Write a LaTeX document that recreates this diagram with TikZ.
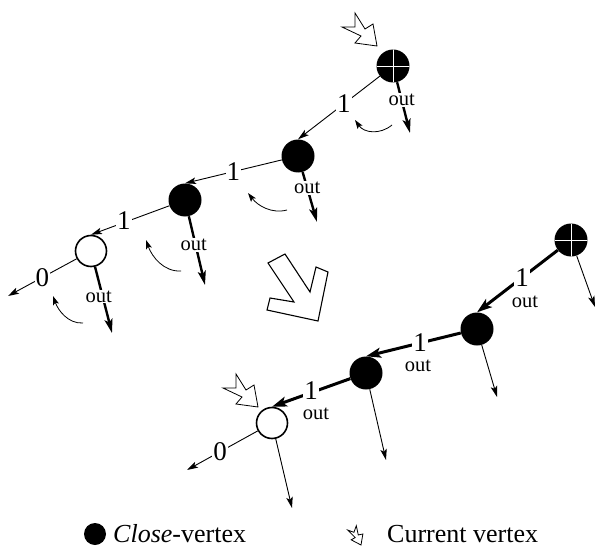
\documentclass[tikz,border=0pt]{standalone}
\usepackage{fontspec}
\setmainfont{Liberation Serif}
\usetikzlibrary{arrows.meta}

\begin{document}
\begin{tikzpicture}[x=1pt,y=-1pt,
  vtx/.style={circle,fill=black,inner sep=0pt,minimum size=33pt},
  openvtx/.style={circle,draw,line width=1.6pt,fill=white,inner sep=0pt,minimum size=31pt},
  rootvtx/.style={vtx,path picture={
      \draw[white,line width=0.9pt]
        (path picture bounding box.north) -- (path picture bounding box.south)
        (path picture bounding box.west) -- (path picture bounding box.east);}},
  num/.style={font=\fontsize{27}{27}\selectfont,fill=white,inner sep=1pt},
  outlbl/.style={font=\fontsize{20.5}{20.5}\selectfont,fill=white,inner sep=1pt},
  outtxt/.style={font=\fontsize{20.5}{20.5}\selectfont,inner sep=0pt},
  legtxt/.style={font=\fontsize{26}{26}\selectfont,inner sep=0pt,anchor=base west},
  thinarr/.style={line width=0.9pt,-{Stealth[length=11pt,width=6.5pt,inset=2.5pt]}},
  outarr/.style={line width=2.4pt,-{Stealth[length=14pt,width=8pt,inset=3pt]}},
  thickarr/.style={line width=3pt,-{Stealth[length=15pt,width=10pt,inset=3.5pt]}},
  turnarr/.style={line width=0.8pt,-{Stealth[length=9pt,width=6pt,inset=2pt]}},
  curvtx/.pic={
    \draw[line width=0.8pt,fill=white,line join=miter]
      (0,0) -- (-22,-3) -- (-16,-10) -- (-35,-19) -- (-22,-19) -- (-22,-33)
      -- (-12,-17) -- (-4,-22) -- cycle;}
]
\useasboundingbox (0,0) rectangle (596,548);

% ---------- first chain ----------
\node[rootvtx] (a1) at (393,66) {};
\node[vtx] (b1) at (298,156) {};
\node[vtx] (c1) at (185,200) {};
\node[openvtx] (d1) at (91,251) {};
\coordinate (d1end) at (8,296);

\draw[thinarr] (a1) -- node[num,pos=0.44] (n1) {1} (b1.north);
\draw[thinarr] (b1) -- node[num,pos=0.5] (n2) {1} (c1.north);
\draw[thinarr] (c1) -- node[num,pos=0.58,yshift=2pt] (n3) {1} (d1.north);
\draw[thinarr] (d1) -- node[num,pos=0.5] (n4) {0} (d1end);

\coordinate (a1out) at (410,133);
\coordinate (b1out) at (317,222);
\coordinate (c1out) at (205,285);
\coordinate (d1out) at (112,333);
\draw[outarr] (a1) -- node[outlbl,pos=0.35] (o1) {out} (a1out);
\draw[outarr] (b1) -- node[outlbl,pos=0.32] (o2) {out} (b1out);
\draw[outarr] (c1) -- node[outlbl,pos=0.42,xshift=-2pt] (o3) {out} (c1out);
\draw[outarr] (d1) -- node[outlbl,pos=0.45,xshift=-4pt] (o4) {out} (d1out);

% turning arrows below each vertex
\draw[turnarr] (392,125) .. controls (380,135) and (364,133) .. (355,120);
\draw[turnarr] (287,210) .. controls (272,214) and (258,206) .. (248,193);
\draw[turnarr] (181,271) .. controls (164,272) and (152,257) .. (146,240);
\draw[turnarr] (83,323) .. controls (68,324) and (58,310) .. (53,296);

\pic at (377,46) {curvtx};

% ---------- hollow transition arrow ----------
\draw[line width=1.1pt,fill=white,line join=miter]
  (268,263) -- (285,254) -- (310,292) -- (316,267) -- (328,272)
  -- (318,321) -- (267,310) -- (270,298) -- (294,302) -- cycle;

% ---------- second chain ----------
\node[rootvtx] (a2) at (571,240) {};
\node[vtx] (b2) at (477,329) {};
\node[vtx] (c2) at (366,373) {};
\node[openvtx] (d2) at (272,423) {};
\coordinate (d2end) at (187,470);

\draw[thickarr] (a2) -- node[num,pos=0.44] (m1) {1} (b2.north);
\draw[thickarr] (b2) -- node[num,pos=0.43] (m2) {1} (c2.north);
\draw[thickarr] (c2) -- node[num,pos=0.5,yshift=2pt] (m3) {1} (d2.north);
\draw[thinarr] (d2) -- node[num,pos=0.53] (m4) {0} (d2end);

\node[outtxt] (p1) at (525,302) {out};
\node[outtxt] (p2) at (418,366) {out};
\node[outtxt] (p3) at (316,414) {out};

\coordinate (a2dn) at (595,307);
\coordinate (b2dn) at (497,397);
\coordinate (c2dn) at (386,460);
\coordinate (d2dn) at (292,508);
\draw[thinarr] (a2) -- (a2dn);
\draw[thinarr] (b2) -- (b2dn);
\draw[thinarr] (c2) -- (c2dn);
\draw[thinarr] (d2) -- (d2dn);

\pic at (258,407) {curvtx};

% ---------- legend ----------
\node[vtx,minimum size=22pt] (lgdot) at (95,534) {};
\node[legtxt] (lgclose) at (113,542) {\textit{Close}-vertex};
\pic[scale=0.5,rotate=-20] at (361,545) {curvtx};
\node[legtxt] (lgcur) at (387,542) {Current vertex};
\end{tikzpicture}
\end{document}
